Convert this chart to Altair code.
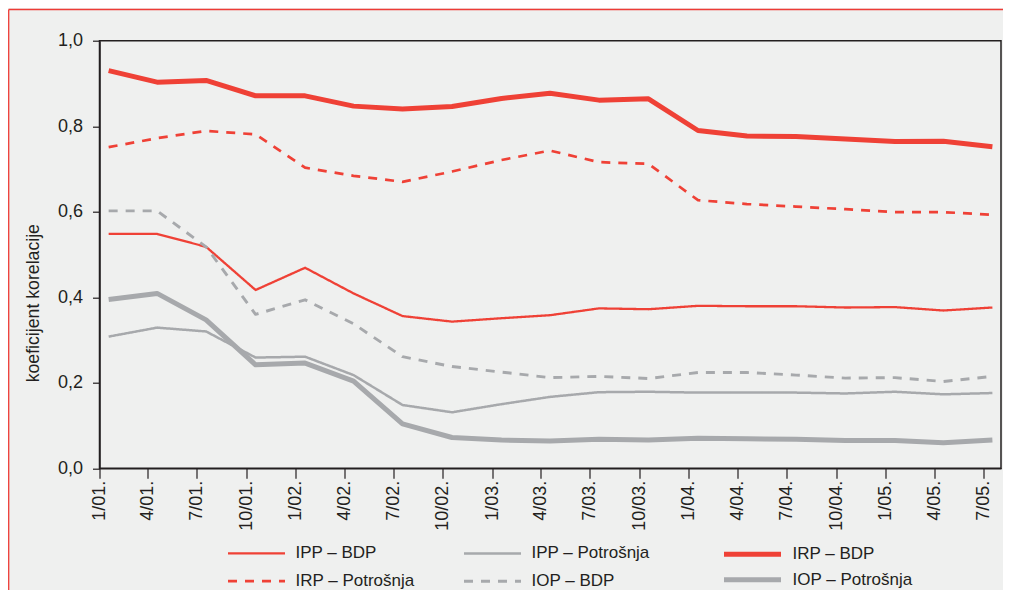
import altair as alt
import pandas as pd

FONT = "Liberation Sans"
RED = "#ef4136"
GREY = "#a7a9ac"
INK = "#231f20"

# quarterly observations (plotted a little into the first month of each quarter)
dates = [
    "2001-01-18", "2001-04-18", "2001-07-18", "2001-10-18",
    "2002-01-18", "2002-04-18", "2002-07-18", "2002-10-18",
    "2003-01-18", "2003-04-18", "2003-07-18", "2003-10-18",
    "2004-01-18", "2004-04-18", "2004-07-18", "2004-10-18",
    "2005-01-18", "2005-04-18", "2005-07-18",
]
# tick positions (year, month) -> labels like 1/01.
tick_months = [(y, m) for y in range(2001, 2006) for m in (1, 4, 7, 10)][:19]

series_names = ["IPP – BDP", "IPP – Potrošnja", "IRP – BDP",
                "IRP – Potrošnja", "IOP – BDP", "IOP – Potrošnja"]

ipp_bdp = [0.548, 0.548, 0.518, 0.417, 0.469, 0.409, 0.356, 0.343, 0.351, 0.358,
           0.374, 0.372, 0.380, 0.379, 0.379, 0.376, 0.377, 0.369, 0.376]
ipp_potr = [0.308, 0.329, 0.320, 0.259, 0.261, 0.218, 0.148, 0.131, 0.150, 0.167,
            0.178, 0.179, 0.177, 0.177, 0.177, 0.175, 0.179, 0.173, 0.176]
irp_bdp = [0.930, 0.903, 0.907, 0.871, 0.871, 0.847, 0.840, 0.846, 0.865, 0.877,
           0.861, 0.864, 0.790, 0.777, 0.776, 0.770, 0.764, 0.765, 0.752]
irp_potr = [0.751, 0.772, 0.789, 0.781, 0.703, 0.684, 0.670, 0.694, 0.721, 0.743,
            0.716, 0.712, 0.627, 0.618, 0.612, 0.606, 0.599, 0.599, 0.593]
iop_bdp = [0.602, 0.602, 0.518, 0.360, 0.394, 0.338, 0.261, 0.238, 0.225, 0.212,
           0.215, 0.210, 0.224, 0.224, 0.218, 0.211, 0.212, 0.203, 0.215]
iop_potr = [0.395, 0.409, 0.347, 0.242, 0.246, 0.204, 0.104, 0.072, 0.066, 0.064,
            0.068, 0.066, 0.070, 0.069, 0.068, 0.065, 0.065, 0.060, 0.066]

all_values = [ipp_bdp, ipp_potr, irp_bdp, irp_potr, iop_bdp, iop_potr]

style = {
    "IPP – BDP": (RED, [1, 0], 2.3),
    "IPP – Potrošnja": (GREY, [1, 0], 2.9),
    "IRP – BDP": (RED, [1, 0], 5.0),
    "IRP – Potrošnja": (RED, [9, 8], 3.0),
    "IOP – BDP": (GREY, [9, 8], 3.0),
    "IOP – Potrošnja": (GREY, [1, 0], 5.0),
}

rows = []
for name, vals in zip(series_names, all_values):
    for d, v in zip(dates, vals):
        rows.append({"date": d, "value": v, "series": name})
df = pd.DataFrame(rows)

W, H = 901.5, 427.6
PAD = {"left": 91.5, "top": 32.7, "right": 2, "bottom": 121.7}

x_enc = alt.X(
    "date:T",
    scale=alt.Scale(type="utc", domain=[
        alt.DateTime(year=2001, month=1, date=1, utc=True),
        alt.DateTime(year=2005, month=8, date=3, utc=True)]),
    axis=alt.Axis(
        values=[alt.DateTime(year=y, month=m, date=1, utc=True) for y, m in tick_months],
        labelExpr="utcFormat(datum.value, '%-m/%y.')", labelAngle=270, tickSize=10,
        labelPadding=2, title=None, grid=False),
)
y_enc = alt.Y(
    "value:Q",
    scale=alt.Scale(domain=[0, 1], nice=False),
    axis=alt.Axis(values=[0, 0.2, 0.4, 0.6, 0.8, 1.0],
                  labelExpr="replace(format(datum.value, '.1f'), '.', ',')",
                  title="koeficijent korelacije", tickSize=7, labelPadding=10,
                  titlePadding=15, titleY=262, titleFontSize=17.7, grid=False),
)

# long horizontal legend key: 57 px line inside a 36 px symbol box
LEGEND_SYMBOL = "M-1,0H2.1667"


def legend_for(ncol, lx, ly, **extra):
    return alt.Legend(title=None, orient="none", legendX=lx, legendY=ly,
                      direction="horizontal", columns=ncol, columnPadding=42,
                      rowPadding=0, symbolType=LEGEND_SYMBOL, symbolSize=1296,
                      labelFontSize=17, labelOffset=30, padding=0,
                      labelColor=INK, labelFont=FONT, **extra)


def multi_layer(names, ncol, lx, ly):
    sub = df[df["series"].isin(names)]
    leg = legend_for(ncol, lx, ly)
    return alt.Chart(sub).mark_line(strokeJoin="round").encode(
        x=x_enc, y=y_enc,
        color=alt.Color("series:N", scale=alt.Scale(
            domain=names, range=[style[n][0] for n in names]), legend=leg),
        strokeDash=alt.StrokeDash("series:N", scale=alt.Scale(
            domain=names, range=[style[n][1] for n in names]), legend=leg),
        strokeWidth=alt.StrokeWidth("series:N", scale=alt.Scale(
            domain=names, range=[style[n][2] for n in names]), legend=leg),
    )


def single_layer(name, lx, ly):
    sub = df[df["series"] == name]
    color, _, width = style[name]
    leg = legend_for(1, lx, ly, symbolStrokeWidth=width)
    return alt.Chart(sub).mark_line(strokeJoin="round", strokeWidth=width).encode(
        x=x_enc, y=y_enc,
        color=alt.Color("series:N", scale=alt.Scale(domain=[name], range=[color]),
                        legend=leg),
    )


layer_a = multi_layer(["IPP – BDP", "IPP – Potrošnja", "IRP – Potrošnja", "IOP – BDP"], 2, 127, 493)
layer_b1 = single_layer("IRP – BDP", 622, 493)
layer_b2 = single_layer("IOP – Potrošnja", 622, 518.5)

one = pd.DataFrame({"k": [0]})
frame_top = alt.Chart(one).mark_rule(color="#ee3b36", strokeWidth=1.3).encode(
    x=alt.value(-PAD["left"] + 0.7), x2=alt.value(W + PAD["right"]), y=alt.value(-31.2))
frame_left = alt.Chart(one).mark_rule(color="#ee3b36", strokeWidth=1.3).encode(
    x=alt.value(-PAD["left"] + 0.7), y=alt.value(-31.2), y2=alt.value(H + PAD["bottom"]))

chart = alt.layer(frame_top, frame_left, layer_a, layer_b1, layer_b2).resolve_scale(
    color="independent", strokeDash="independent", strokeWidth="independent"
).properties(
    width=W, height=H, padding=PAD,
    autosize=alt.AutoSizeParams(type="none"),
    background="#eff0ef",
).configure_view(
    stroke=INK, strokeWidth=1.5
).configure_axis(
    domainColor=INK, domainWidth=1.5, tickColor=INK, tickWidth=1.2,
    labelFont=FONT, labelFontSize=18, labelFontWeight="normal", labelColor=INK,
    titleFont=FONT, titleFontSize=17.7, titleFontWeight="normal", titleColor=INK,
)

chart.save("out.html", embed_options={"renderer": "svg", "actions": False})
